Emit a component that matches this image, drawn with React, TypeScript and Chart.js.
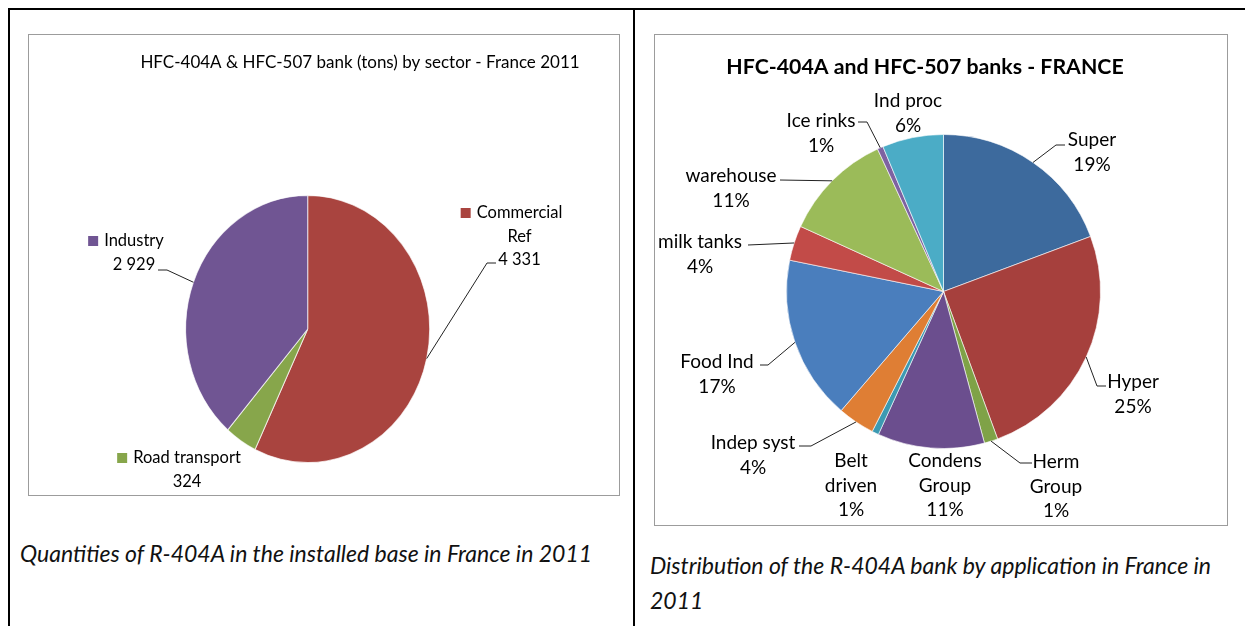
import React, { useEffect, useRef } from 'react';
import { Chart, registerables } from 'chart.js';

Chart.register(...registerables);

const FONT = 'Lato, "Open Sans", sans-serif';
const TEXT = '#000';

// ---------- Left chart: bank by sector (tons) ----------
const sectorTitle = 'HFC-404A & HFC-507 bank (tons) by sector - France 2011';
const sectorCategories = ['Commercial Ref', 'Road transport', 'Industry'];
const sectorValues = [4331, 324, 2929];
const sectorColors = ['#A9443F', '#87A64B', '#705593'];
const sectorLabelLines = [['Commercial', 'Ref'], ['Road transport'], ['Industry']];

// ---------- Right chart: bank by application (%) ----------
const appTitle = 'HFC-404A and HFC-507 banks - FRANCE';
const appCategories = [
  'Super', 'Hyper', 'Herm Group', 'Condens Group', 'Belt driven', 'Indep syst',
  'Food Ind', 'milk tanks', 'warehouse', 'Ice rinks', 'Ind proc',
];
const appShares = [19.3, 25.1, 1.4, 11.0, 0.7, 3.8, 16.9, 3.6, 11.3, 0.6, 6.3];
const appColors = [
  '#3D6A9D', '#A6403D', '#7FA247', '#6B4E8E', '#3C9AB2', '#DF7E34',
  '#4A7EBD', '#C24B48', '#9BBB59', '#7E62A1', '#4BACC6',
];
const appLabelLines = [
  ['Super'], ['Hyper'], ['Herm', 'Group'], ['Condens', 'Group'], ['Belt', 'driven'],
  ['Indep syst'], ['Food Ind'], ['milk tanks'], ['warehouse'], ['Ice rinks'], ['Ind proc'],
];

// ---------- layout (canvas-relative placements of labels) ----------
type Leader = { x: number; y: number; stub: number };
type LabelPos = { cx: number; cy: number; leader?: Leader };

const LEFT_BOX = { left: 28, top: 34, width: 592, height: 462 };
const RIGHT_BOX = { left: 654, top: 34, width: 574, height: 492 };

const sectorLabelPos: LabelPos[] = [
  { cx: 491.5, cy: 179, leader: { x: 468, y: 229, stub: -9 } },
  { cx: 159, cy: 424 },
  { cx: 106, cy: 207, leader: { x: 130, y: 236, stub: 9 } },
];

const appLabelPos: LabelPos[] = [
  { cx: 438, cy: 106, leader: { x: 411, y: 111, stub: -9 } },
  { cx: 479, cy: 348, leader: { x: 452, y: 352, stub: -9 } },
  { cx: 402, cy: 428, leader: { x: 378, y: 429, stub: -12 } },
  { cx: 291, cy: 427 },
  { cx: 197, cy: 427 },
  { cx: 99, cy: 409, leader: { x: 145, y: 412, stub: 12 } },
  { cx: 63, cy: 328, leader: { x: 106, y: 331, stub: 8 } },
  { cx: 46, cy: 208, leader: { x: 94, y: 211, stub: 0 } },
  { cx: 77, cy: 142, leader: { x: 126, y: 146, stub: 0 } },
  { cx: 167, cy: 87, leader: { x: 204, y: 88, stub: 9 } },
  { cx: 254, cy: 67 },
];

const fmtThousands = (n: number) => String(n).replace(/\B(?=(\d{3})+(?!\d))/g, ' ');

function edgePoint(arc: any, scaleY: number) {
  const mid = (arc.startAngle + arc.endAngle) / 2;
  return {
    x: arc.x + Math.cos(mid) * arc.outerRadius,
    y: arc.y + Math.sin(mid) * arc.outerRadius * scaleY,
  };
}

function makeLabelPlugin(opts: {
  title: string;
  titleFont: string;
  titlePos: { x: number; y: number };
  lines: string[][];
  values: string[];
  pos: LabelPos[];
  font: string;
  lineH: number;
  scaleY: number;
  legendSquares?: string[];
}) {
  return {
    id: 'customLabels',
    beforeDatasetsDraw(chart: any) {
      if (opts.scaleY === 1) return;
      const arc = chart.getDatasetMeta(0).data[0];
      const ctx = chart.ctx;
      ctx.save();
      ctx.translate(arc.x, arc.y);
      ctx.scale(1, opts.scaleY);
      ctx.translate(-arc.x, -arc.y);
    },
    afterDatasetsDraw(chart: any) {
      if (opts.scaleY === 1) return;
      chart.ctx.restore();
    },
    afterDraw(chart: any) {
      const ctx = chart.ctx;
      const meta = chart.getDatasetMeta(0);
      ctx.save();
      ctx.fillStyle = TEXT;
      ctx.textAlign = 'center';
      ctx.textBaseline = 'middle';
      ctx.font = opts.titleFont;
      ctx.fillText(opts.title, opts.titlePos.x, opts.titlePos.y);

      ctx.font = opts.font;
      opts.pos.forEach((p, i) => {
        const lines = [...opts.lines[i], opts.values[i]];
        lines.forEach((t, k) => {
          ctx.fillStyle = TEXT;
          ctx.fillText(t, p.cx, p.cy + k * opts.lineH);
        });
        if (opts.legendSquares) {
          const w = ctx.measureText(lines[0]).width;
          ctx.fillStyle = opts.legendSquares[i];
          ctx.fillRect(p.cx - w / 2 - 16, p.cy - 5, 10, 10);
        }
        if (p.leader) {
          const e = edgePoint(meta.data[i], opts.scaleY);
          ctx.strokeStyle = '#222';
          ctx.lineWidth = 1;
          ctx.beginPath();
          ctx.moveTo(p.leader.x, p.leader.y);
          ctx.lineTo(p.leader.x + p.leader.stub, p.leader.y);
          ctx.lineTo(e.x, e.y);
          ctx.stroke();
        }
      });
      ctx.restore();
    },
  };
}

function PieBox(props: { box: typeof LEFT_BOX; make: (c: HTMLCanvasElement) => Chart }) {
  const ref = useRef<HTMLCanvasElement | null>(null);
  useEffect(() => {
    if (!ref.current) return;
    const chart = props.make(ref.current);
    return () => chart.destroy();
  }, []);
  const { left, top, width, height } = props.box;
  return (
    <div style={{ position: 'absolute', left, top, width, height }}>
      <canvas
        ref={ref}
        width={width}
        height={height}
        style={{ position: 'absolute', left: 0, top: 0, width, height }}
      />
      <div
        style={{
          position: 'absolute', left: 0, top: 0, width: width - 2, height: height - 2,
          border: '1px solid #9c9c9c', pointerEvents: 'none',
        }}
      />
    </div>
  );
}

function makeSectorChart(canvas: HTMLCanvasElement) {
  const W = LEFT_BOX.width, H = LEFT_BOX.height;
  const cx = 279.7, cy = 295, r = 122.5;
  return new Chart(canvas, {
    type: 'pie',
    data: {
      labels: sectorCategories,
      datasets: [{
        data: sectorValues,
        backgroundColor: sectorColors,
        borderColor: 'rgba(255,255,255,0.7)',
        borderWidth: 1,
      }],
    },
    options: {
      responsive: false,
      animation: false,
      events: [],
      layout: { padding: { left: cx - r, right: W - cx - r, top: cy - r, bottom: H - cy - r } },
      plugins: { legend: { display: false }, tooltip: { enabled: false }, title: { display: false } },
    },
    plugins: [makeLabelPlugin({
      title: sectorTitle,
      titleFont: `17px ${FONT}`,
      titlePos: { x: 332, y: 29 },
      lines: sectorLabelLines,
      values: sectorValues.map(fmtThousands),
      pos: sectorLabelPos,
      font: `16.5px ${FONT}`,
      lineH: 23.5,
      scaleY: 1.095,
      legendSquares: sectorColors,
    })],
  } as any);
}

function makeAppChart(canvas: HTMLCanvasElement) {
  const W = RIGHT_BOX.width, H = RIGHT_BOX.height;
  const cx = 289.5, cy = 257.5, r = 157.5;
  return new Chart(canvas, {
    type: 'pie',
    data: {
      labels: appCategories,
      datasets: [{
        data: appShares,
        backgroundColor: appColors,
        borderColor: 'rgba(255,255,255,0.6)',
        borderWidth: 1,
      }],
    },
    options: {
      responsive: false,
      animation: false,
      events: [],
      layout: { padding: { left: cx - r, right: W - cx - r, top: cy - r, bottom: H - cy - r } },
      plugins: { legend: { display: false }, tooltip: { enabled: false }, title: { display: false } },
    },
    plugins: [makeLabelPlugin({
      title: appTitle,
      titleFont: `bold 21.3px ${FONT}`,
      titlePos: { x: 271, y: 33 },
      lines: appLabelLines,
      values: appShares.map((v) => `${Math.round(v)}%`),
      pos: appLabelPos,
      font: `19px ${FONT}`,
      lineH: 24.5,
      scaleY: 1,
    })],
  } as any);
}

export default function App() {
  const caption: React.CSSProperties = {
    position: 'absolute', fontFamily: FONT, fontStyle: 'italic', fontSize: 23,
    color: '#111', whiteSpace: 'nowrap', lineHeight: '24px',
  };
  return (
    <div style={{ position: 'absolute', left: 0, top: 0, width: 1245, height: 626, background: '#fff', overflow: 'hidden' }}>
      {/* table rules */}
      <div style={{ position: 'absolute', left: 8, top: 8, width: 1237, height: 2, background: '#000' }} />
      <div style={{ position: 'absolute', left: 8, top: 8, width: 2, height: 618, background: '#000' }} />
      <div style={{ position: 'absolute', left: 633, top: 8, width: 2, height: 618, background: '#000' }} />

      <PieBox box={LEFT_BOX} make={makeSectorChart} />
      <PieBox box={RIGHT_BOX} make={makeAppChart} />

      <div style={{ ...caption, left: 20, top: 541 }}>
        Quantities of R-404A in the installed base in France in 2011
      </div>
      <div style={{ ...caption, left: 650, top: 553 }}>
        Distribution of the R-404A bank by application in France in
      </div>
      <div style={{ ...caption, left: 650, top: 588 }}>2011</div>
    </div>
  );
}
